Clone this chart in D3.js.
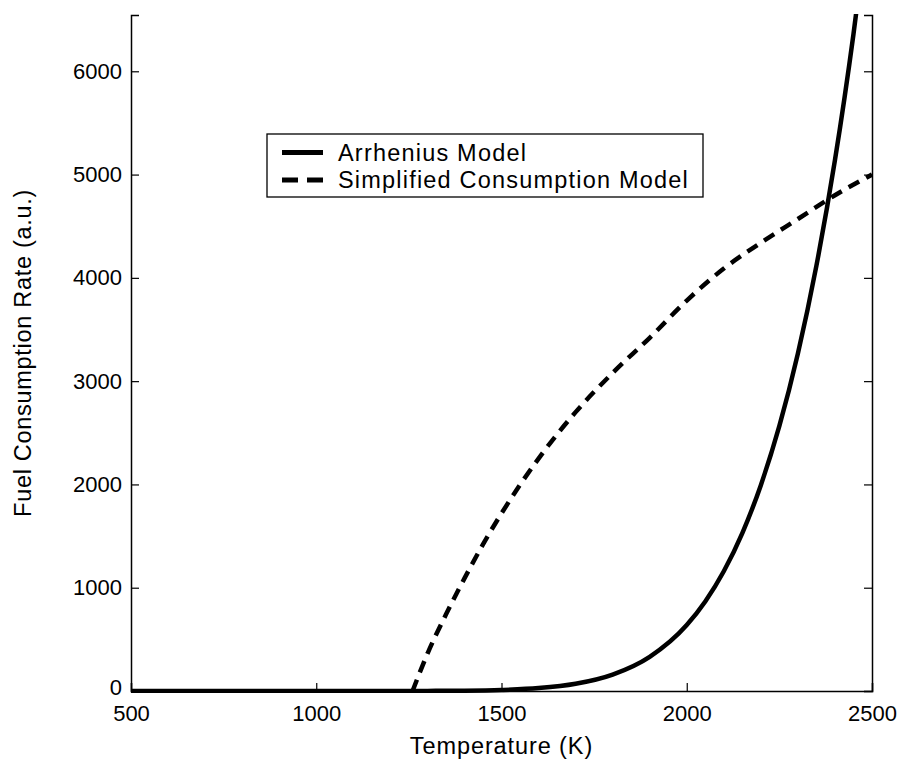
<!DOCTYPE html>
<html>
<head>
<meta charset="utf-8">
<script src="https://cdn.jsdelivr.net/npm/d3@7"></script>
<style>
  body { margin: 0; background: #fff; }
  text { font-family: "Liberation Sans", Arial, Helvetica, sans-serif; fill: #000; }
</style>
</head>
<body>
<div id="chart"></div>
<script>
// temperature (K) and rate (a.u.)
var arrT = [500, 1000, 1200, 1300, 1400, 1500, 1600, 1700, 1800, 1900, 2000, 2050, 2100, 2150, 2200, 2250, 2300, 2350, 2400, 2450, 2480];
var arrV = [0, 0, 0, 1, 3, 10, 28, 70, 159, 331, 639, 867, 1159, 1529, 1993, 2566, 3267, 4118, 5139, 6360, 7200];

var simpT = [1260, 1300, 1350, 1400, 1450, 1500, 1600, 1700, 1800, 1900, 2000, 2100, 2200, 2300, 2400, 2500];
var simpV = [0, 360, 740, 1090, 1420, 1720, 2250, 2700, 3080, 3420, 3780, 4090, 4340, 4570, 4800, 5000];

var xTicks = [500, 1000, 1500, 2000, 2500];
var yTicks = [0, 1000, 2000, 3000, 4000, 5000, 6000];
var legendNames = ["Arrhenius Model", "Simplified Consumption Model"];

var W = 906, H = 766;
var margin = {left: 131, right: 34, top: 15, bottom: 75};
var pw = W - margin.left - margin.right, ph = H - margin.top - margin.bottom;

var svg = d3.select("#chart").append("svg").attr("width", W).attr("height", H);
var g = svg.append("g").attr("transform", "translate(" + margin.left + "," + margin.top + ")");

var x = d3.scaleLinear().domain([500, 2500]).range([0, pw]);
var y = d3.scaleLinear().domain([0, 6545]).range([ph, 0]);

svg.append("defs").append("clipPath").attr("id", "clip")
    .append("rect").attr("width", pw).attr("height", ph + 3).attr("y", -1);

// axes, ticks point inward like matlab
var fs = 22, labFs = 23.5;
var xAx = g.append("g").attr("transform", "translate(0," + ph + ")")
    .call(d3.axisBottom(x).tickValues(xTicks).tickSize(-8).tickPadding(14).tickFormat(d3.format("d")));
var yAx = g.append("g")
    .call(d3.axisLeft(y).tickValues(yTicks).tickSize(-8).tickPadding(9).tickFormat(d3.format("d")));
var yAxR = g.append("g").attr("transform", "translate(" + pw + ",0)")
    .call(d3.axisRight(y).tickValues(yTicks).tickSize(-8).tickFormat(""));
[xAx, yAx, yAxR].forEach(function(a){
    a.selectAll("text").style("font-size", fs + "px").attr("font-family", null);
    a.selectAll("line").attr("stroke", "#000").attr("stroke-width", 1.2);
    a.select(".domain").attr("stroke", "#000").attr("stroke-width", 1.5);
});
xAx.selectAll("text").attr("dy", "0.71em");
// the 0 label sits just above the 500 label
yAx.selectAll(".tick text").filter(function(d){ return d === 0; }).attr("dy", "0.18em");

// curves
var line = d3.line().x(function(d){ return x(d[0]); }).y(function(d){ return y(d[1]); }).curve(d3.curveMonotoneX);
var plot = g.append("g").attr("clip-path", "url(#clip)");
plot.append("path").datum(d3.zip(simpT, simpV)).attr("d", line)
    .attr("fill", "none").attr("stroke", "#000").attr("stroke-width", 4.5).attr("stroke-dasharray", "12,8");
plot.append("path").datum(d3.zip(arrT, arrV)).attr("d", line)
    .attr("fill", "none").attr("stroke", "#000").attr("stroke-width", 4.5);

// axis labels
g.append("text").attr("x", pw / 2).attr("y", ph + 63).attr("text-anchor", "middle")
    .style("font-size", labFs + "px").style("letter-spacing", "0.9px").text("Temperature (K)");
g.append("text").attr("transform", "translate(" + (-100) + "," + (ph / 2) + ") rotate(-90)")
    .attr("text-anchor", "middle").style("font-size", labFs + "px").style("letter-spacing", "0.7px")
    .text("Fuel Consumption Rate (a.u.)");

// legend
var lg = svg.append("g").attr("transform", "translate(267,134)");
lg.append("rect").attr("width", 436).attr("height", 63).attr("fill", "#fff").attr("stroke", "#000").attr("stroke-width", 1.3);
legendNames.forEach(function(name, i){
    var ly = 18.5 + i * 27.5;
    lg.append("line").attr("x1", 15).attr("x2", 56).attr("y1", ly).attr("y2", ly)
        .attr("stroke", "#000").attr("stroke-width", 5).attr("stroke-dasharray", i ? "16,9" : null);
    lg.append("text").attr("x", 71).attr("y", ly).attr("dy", "0.35em")
        .style("font-size", labFs + "px").style("letter-spacing", "1.2px").text(name);
});
</script>
</body>
</html>
